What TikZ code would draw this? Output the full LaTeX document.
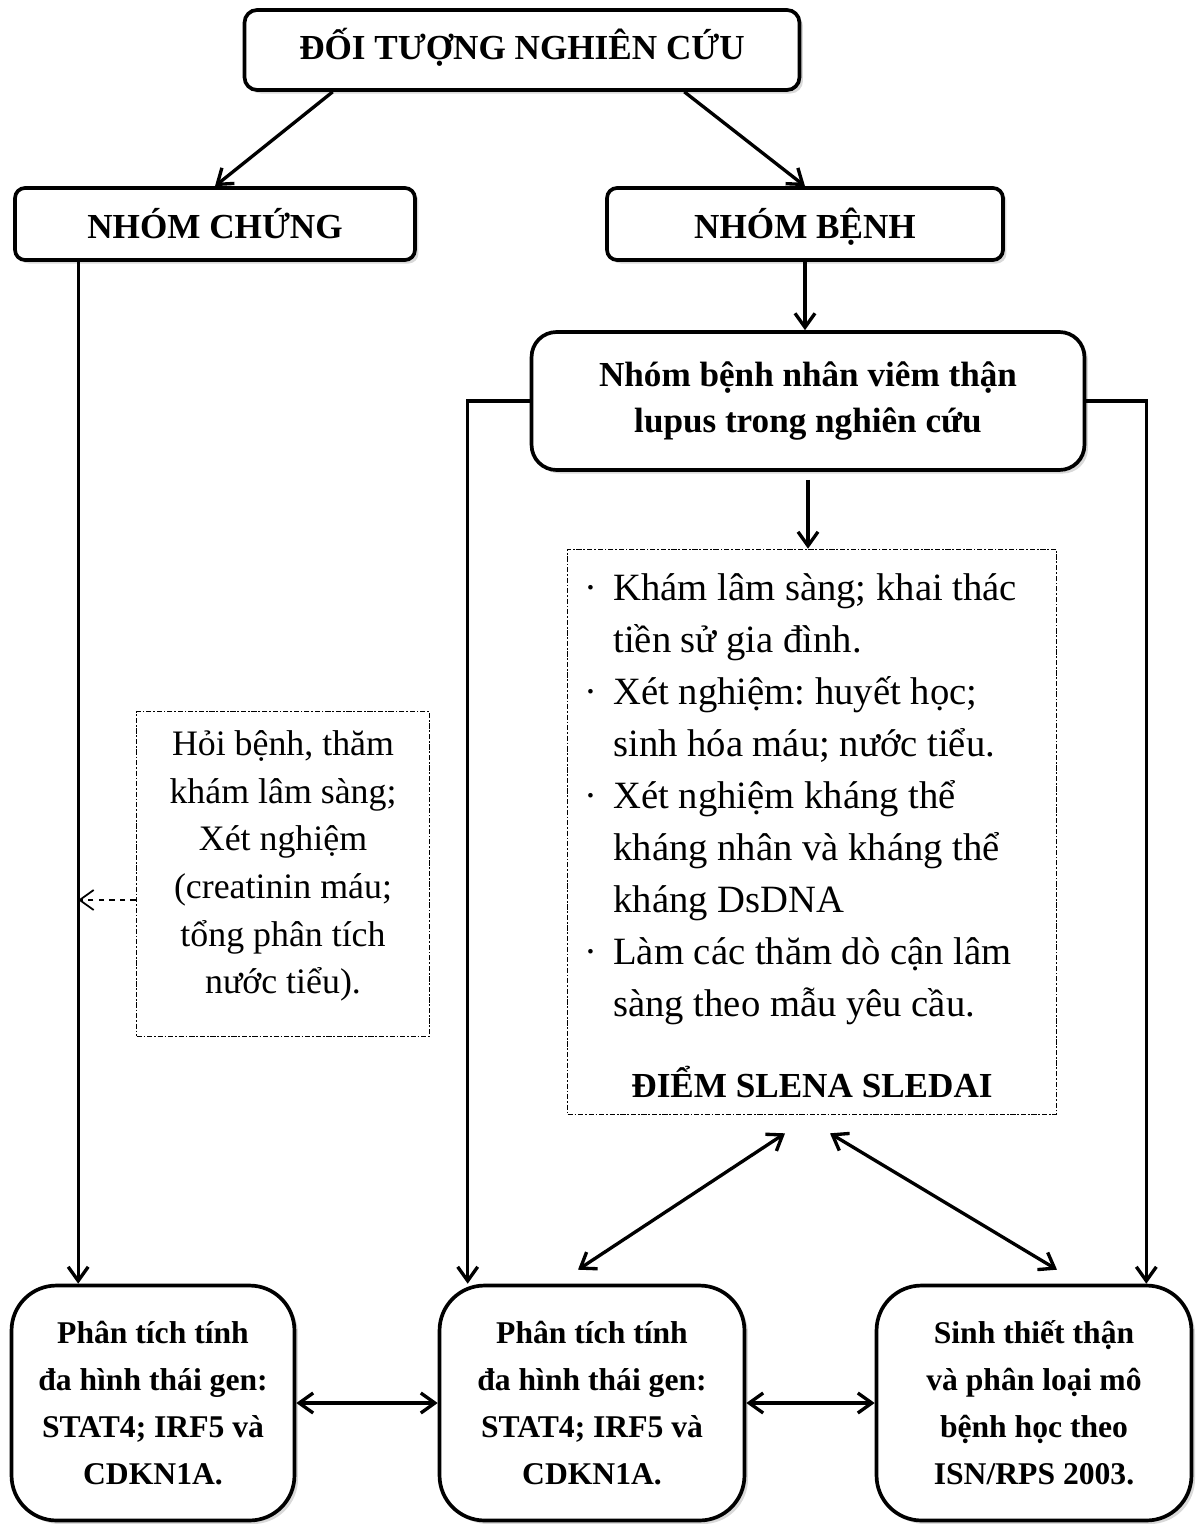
\documentclass[tikz,border=0pt]{standalone}
\usepackage{fontspec}
\setmainfont{Liberation Serif}
\usepackage{tikz}
\usetikzlibrary{arrows.meta,shadows}
\newcommand{\exbul}{\makebox[0.58cm][l]{·}}
\newcommand{\exind}{\hspace*{0.58cm}}
\frenchspacing

\begin{document}
\begin{tikzpicture}[x=0.02cm,y=-0.02cm,
    >={Straight Barb[length=0.28cm,width=0.4cm]},
    conn/.style={line width=1.9pt},
    headbox/.style={draw,line width=2.1pt,rounded corners=0.25cm,fill=white,
      drop shadow={opacity=0.3,shadow xshift=2pt,shadow yshift=-2pt},
      font=\fontsize{20}{26}\selectfont\bfseries,align=center},
    linebox/.style={headbox,text height=15pt,text depth=4pt},
    genbox/.style={headbox,rounded corners=0.9cm,minimum height=4.7cm,
      font=\fontsize{18}{26.7}\selectfont\bfseries},
    notebox/.style={draw,line width=1pt,dash pattern=on 3pt off 1pt on 1pt off 1pt}]
  \useasboundingbox (0,0) rectangle (1201,1524);
  % top of the plan
  \node[linebox,minimum width=11.1cm,minimum height=1.6cm] (title) at (522,50) {ĐỐI TƯỢNG NGHIÊN CỨU};
  \node[linebox,text height=19pt,text depth=3pt,minimum width=8cm,minimum height=1.44cm,rounded corners=0.2cm] (chung) at (215,224) {NHÓM CHỨNG};
  \node[linebox,text height=19pt,text depth=3pt,minimum width=7.92cm,minimum height=1.44cm,rounded corners=0.2cm] (benh) at (805,224) {NHÓM BỆNH};
  \node[headbox,minimum width=11.06cm,minimum height=2.76cm,rounded corners=0.5cm,
    font=\fontsize{20}{26.7}\selectfont\bfseries] (bn) at (808,401) {Nhóm bệnh nhân viêm thận\\lupus trong nghiên cứu};
  % notes
  \node[notebox,minimum width=9.78cm,minimum height=11.3cm] (exam) at (812,832) {};
  \node[anchor=north west,inner sep=0pt,align=left,font=\fontsize{22}{29.6}\selectfont] (examtext) at (584,573)
    {\exbul Khám lâm sàng; khai thác\\
     \exind tiền sử gia đình.\\
     \exbul Xét nghiệm: huyết học;\\
     \exind sinh hóa máu; nước tiểu.\\
     \exbul Xét nghiệm kháng thể\\
     \exind kháng nhân và kháng thể\\
     \exind kháng DsDNA\\
     \exbul Làm các thăm dò cận lâm\\
     \exind sàng theo mẫu yêu cầu.};
  \node[font=\fontsize{20}{26}\selectfont\bfseries] (sledai) at (812,1082) {ĐIỂM SLENA SLEDAI};
  \node[notebox,minimum width=5.86cm,minimum height=6.5cm] (hoi) at (283,874) {};
  \node[align=center,font=\fontsize{20.4}{27.1}\selectfont] (hoitext) at (283,866)
    {Hỏi bệnh, thăm\\khám lâm sàng;\\Xét nghiệm\\(creatinin máu;\\tổng phân tích\\nước tiểu).};
  % bottom row
  \node[genbox,minimum width=5.66cm] (gen1) at (153,1403) {Phân tích tính\\đa hình thái gen:\\STAT4; IRF5 và\\CDKN1A.};
  \node[genbox,minimum width=6.1cm] (gen2) at (592,1403) {Phân tích tính\\đa hình thái gen:\\STAT4; IRF5 và\\CDKN1A.};
  \node[genbox,minimum width=6.3cm] (sinh) at (1034,1403) {Sinh thiết thận\\và phân loại mô\\bệnh học theo\\ISN/RPS 2003.};

  \coordinate (cl) at ([xshift=1.3cm]chung.south west);
  \coordinate (hoiout) at ([yshift=-0.52cm]hoi.west);
  \coordinate (bnl) at ([xshift=0.6cm]gen2.north west);
  \coordinate (bnr) at ([xshift=-0.94cm]sinh.north east);
  \coordinate (bnout) at ([yshift=-0.16cm]bn.south);

  \draw[conn,->] ([xshift=1.8cm]title.south west) -- (chung.north);
  \draw[conn,->] ([xshift=-2.34cm]title.south east) -- (benh.north);
  \draw[conn,->] (benh.south) -- (benh.south |- bn.north);
  \draw[conn,->] (cl) -- (cl |- gen1.north);
  \draw[conn,->] (bn.west) -| (bnl);
  \draw[conn,->] (bn.east) -| (bnr);
  \draw[conn,->] (bnout) -- (bnout |- exam.north);
  \draw[line width=1pt,dashed,->] (hoiout) -- (hoiout -| cl);
  \draw[conn,<->] ([xshift=-0.54cm,yshift=-0.36cm]exam.south) -- ([xshift=-0.28cm,yshift=0.28cm]gen2.north);
  \draw[conn,<->] ([xshift=0.36cm,yshift=-0.36cm]exam.south) -- ([xshift=0.46cm,yshift=0.28cm]sinh.north);
  \draw[conn,<->] (gen1.east) -- (gen2.west);
  \draw[conn,<->] (gen2.east) -- (sinh.west);
\end{tikzpicture}
\end{document}
